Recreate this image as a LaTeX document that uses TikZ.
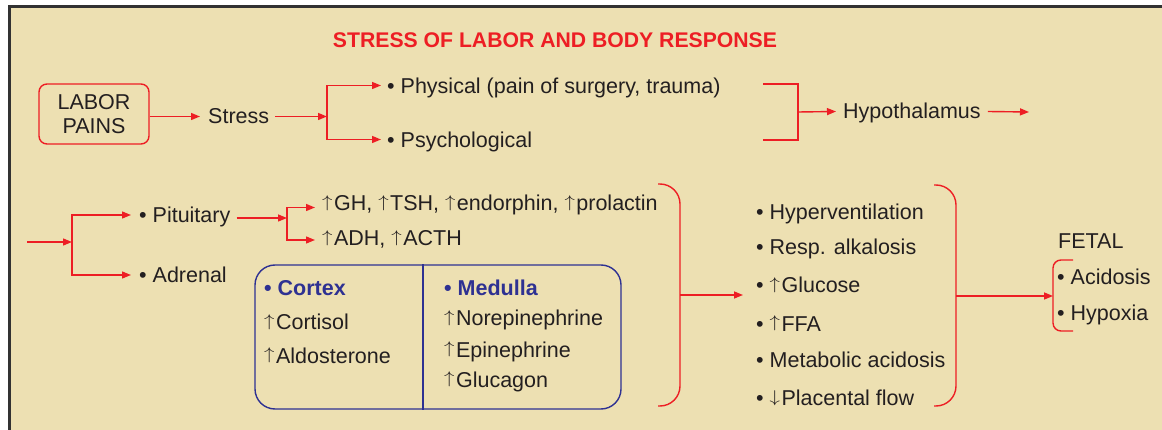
\documentclass[tikz,border=0pt]{standalone}
\usepackage{fontspec}
\usepackage{graphicx}
\setmainfont{Liberation Sans}
\usetikzlibrary{arrows.meta}
\definecolor{bg}{RGB}{237,224,178}
\definecolor{lred}{RGB}{237,30,36}
\definecolor{lblue}{RGB}{46,49,146}
\definecolor{ink}{RGB}{35,31,32}
\definecolor{framec}{RGB}{50,50,50}
\newcommand\upar{\raisebox{3.2pt}{\scalebox{1}[0.82]{$\uparrow$}}\hspace{1.5pt}}
\newcommand\dnar{\raisebox{3.2pt}{\scalebox{1}[0.82]{$\downarrow$}}\hspace{1.5pt}}
\begin{document}
\begin{tikzpicture}[x=1pt,y=-1pt,
  txt/.style={font=\fontsize{21.5}{25}\selectfont, text=ink, inner sep=0pt, anchor=west, text height=15pt, text depth=0pt},
  btxt/.style={txt, font=\fontsize{21.5}{25}\selectfont\bfseries, text=lblue},
  conn/.style={draw=lred, line width=1.4pt, -{Triangle[length=9pt,width=7pt]}},
  redline/.style={draw=lred, line width=1.4pt},
]
\useasboundingbox (0,0) rectangle (1162,430);
\fill[white] (0,0) rectangle (1162,430);
\fill[bg] (9,7) rectangle (1162,430);
\draw[framec, line width=3pt] (9,431) -- (9,7) -- (1163,7);

% title
\node[txt, anchor=center, font=\fontsize{21.2}{25}\selectfont\bfseries, text=lred] (title) at (555,40) {STRESS OF LABOR AND BODY RESPONSE};

% top row
\node[draw=lred, line width=1.4pt, rounded corners=8pt, minimum width=110pt, minimum height=60pt, inner sep=0pt, align=center, text=ink, font=\fontsize{21.5}{23.5}\selectfont] (labor) at (94,114) {LABOR\\PAINS};
\node[txt] (stress) at (208,116.5) {Stress};
\draw[conn] (labor.east |- stress.west) -- ([xshift=-8pt]stress.west);
\coordinate (j1) at (327,116.5);
\draw[conn] ([xshift=6pt]stress.east) -- (j1);
\node[txt] (phys) at (387,86.5) {• Physical (pain of surgery, trauma)};
\node[txt] (psych) at (387,140.5) {• Psychological};
\draw[conn] (j1) |- ([xshift=-6pt,yshift=1pt]phys.west);
\draw[conn] (j1) |- ([xshift=-6pt,yshift=1pt]psych.west);

\node[txt] (hypo) at (843,111.5) {Hypothalamus};
\coordinate (hb) at (798,112);
\draw[redline] (763,84) -- (798,84) -- (798,140) -- (763,140);
\draw[conn] (hb) -- ([xshift=-7pt]hypo.west);
\coordinate (hend) at (1029,112);
\draw[conn] ([xshift=7pt]hypo.east) -- (hend);

% second row
\coordinate (start) at (27,242);
\coordinate (j2) at (72,242);
\node[txt] (pit) at (139,215) {• Pituitary};
\node[txt] (adr) at (139,275) {• Adrenal};
\draw[conn] (start) -- (j2);
\draw[conn] (j2) |- ([xshift=-8pt]pit.west);
\draw[conn] (j2) |- ([xshift=-8pt]adr.west);

\coordinate (j3) at (287,218);
\node[txt] (gh) at (322,203.5) {\upar GH, \upar TSH, \upar endorphin, \upar prolactin};
\node[txt] (adh) at (322,238.5) {\upar ADH, \upar ACTH};
\draw[conn] ([xshift=6pt]pit.east |- j3) -- (j3);
\draw[conn] (j3) |- ([xshift=-7pt,yshift=-4pt]gh.west);
\draw[conn] (j3) |- ([xshift=-7pt,yshift=-1.5pt]adh.west);

% adrenal box
\node[draw=lblue, line width=1.4pt, rounded corners=20pt, minimum width=366pt, minimum height=144pt, inner sep=0pt] (abox) at (438,337) {};
\draw[lblue, line width=1.4pt] ([xshift=-15pt]abox.north) -- ([xshift=-15pt]abox.south);
\node[btxt] (cortex) at (264,288) {• Cortex};
\node[txt] (cort) at (264,322.5) {\upar Cortisol};
\node[txt] (aldo) at (264,355.5) {\upar Aldosterone};
\node[btxt] (medulla) at (444,288) {• Medulla};
\node[txt] (nore) at (444,318.5) {\upar Norepinephrine};
\node[txt] (epi) at (444,349.5) {\upar Epinephrine};
\node[txt] (gluc) at (444,379.5) {\upar Glucagon};

% brace 1
\draw[redline, rounded corners=20pt] (658,184) -- (680,184) -- (680,406) -- (658,406);
\coordinate (b1) at (680,295);
\node[txt] (hv) at (756,212) {• Hyperventilation};
\node[txt] (ra) at (756,247) {• Resp. alkalosis};
\node[txt] (gl) at (756,285) {• \upar Glucose};
\node[txt] (ffa) at (756,323.5) {• \upar FFA};
\node[txt] (ma) at (756,360) {• Metabolic acidosis};
\node[txt] (pf) at (756,398) {• \dnar Placental flow};
\draw[conn] (b1) -- ([xshift=-13pt,yshift=-10pt]gl.west);

% brace 2
\draw[redline, rounded corners=20pt] (934,185) -- (956,185) -- (956,406) -- (934,406);
\coordinate (b2) at (956,296);
\draw[redline, rounded corners=8pt] (1073,260) -- (1053,260) -- (1053,331) -- (1073,331);
\coordinate (fb) at (1053,296);
\draw[conn] (b2) -- (fb);
\node[txt] (fetal) at (1058,241) {FETAL};
\node[txt] (acid) at (1057,277) {• Acidosis};
\node[txt] (hypx) at (1057,313) {• Hypoxia};
\end{tikzpicture}
\end{document}
